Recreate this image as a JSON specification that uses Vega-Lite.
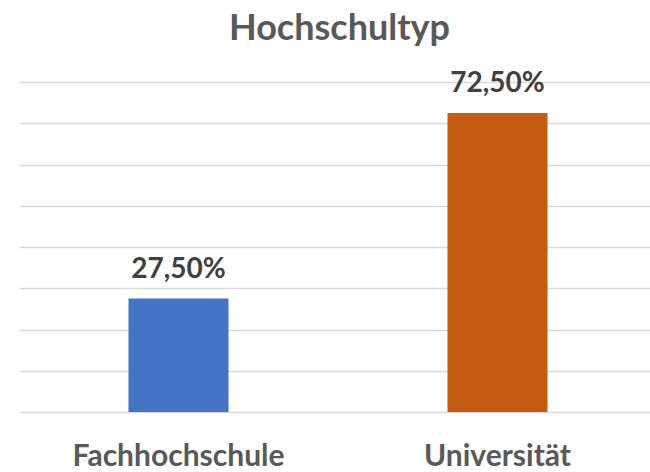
{
  "$schema": "https://vega.github.io/schema/vega-lite/v6.json",
  "width": 631,
  "height": 330,
  "padding": {"left": 19, "top": 10, "right": 0, "bottom": 0},
  "background": "white",
  "title": {
    "text": "Hochschultyp",
    "font": "Lato",
    "fontSize": 36,
    "fontWeight": "bold",
    "color": "#595959",
    "anchor": "middle",
    "baseline": "alphabetic",
    "offset": -6,
    "dx": 5
  },
  "data": {
    "values": [
      {"typ": "Fachhochschule", "anteil": 0.275},
      {"typ": "Universität", "anteil": 0.725}
    ]
  },
  "encoding": {
    "x": {
      "field": "typ",
      "type": "nominal",
      "sort": null,
      "scale": {"range": [0, 638], "paddingInner": 0, "paddingOuter": 0},
      "axis": {
        "title": null,
        "labelAngle": 0,
        "labelFont": "Lato",
        "labelFontSize": 30,
        "labelFontWeight": "bold",
        "labelColor": "#595959",
        "labelPadding": 29,
        "labelLimit": 0,
        "ticks": false,
        "domain": true,
        "domainColor": "#D9D9D9",
        "domainWidth": 1.5
      }
    },
    "y": {
      "field": "anteil",
      "type": "quantitative",
      "scale": {"domain": [0, 0.8], "nice": false},
      "axis": {
        "title": null,
        "labels": false,
        "ticks": false,
        "domain": false,
        "grid": true,
        "gridColor": "#D9D9D9",
        "gridWidth": 1.5,
        "values": [0.1, 0.2, 0.3, 0.4, 0.5, 0.6, 0.7, 0.8]
      }
    }
  },
  "layer": [
    {
      "mark": {"type": "bar", "size": 100},
      "encoding": {
        "color": {
          "field": "typ",
          "type": "nominal",
          "scale": {"domain": ["Fachhochschule", "Universität"], "range": ["#4472C4", "#C55A11"]},
          "legend": null
        }
      }
    },
    {
      "mark": {
        "type": "text",
        "baseline": "alphabetic",
        "dy": -21,
        "font": "Lato",
        "fontSize": 28,
        "fontWeight": "bold",
        "color": "#404040"
      },
      "encoding": {
        "text": {"field": "anteil", "type": "quantitative", "format": ".2%"}
      }
    }
  ],
  "config": {
    "view": {"stroke": null},
    "locale": {
      "number": {"decimal": ",", "thousands": ".", "grouping": [3], "currency": ["", " €"]}
    }
  }
}
